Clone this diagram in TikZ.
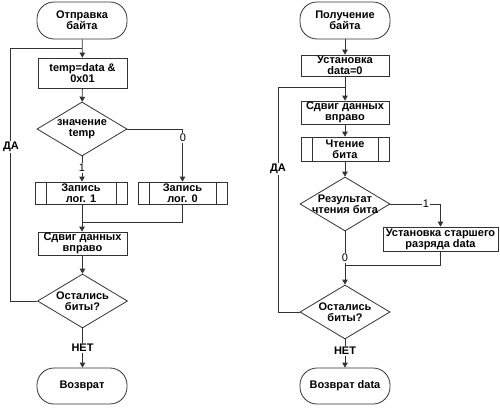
\documentclass[tikz,border=0pt]{standalone}
\usepackage{fontspec}
\setmainfont{Liberation Sans}
\usetikzlibrary{arrows.meta, shapes.geometric}

\tikzset{
    base/.style={draw=black!80, line width=0.8pt, align=center, inner sep=1pt,
        font=\bfseries\fontsize{11}{11}\selectfont},
    term/.style={base, rectangle, rounded corners=17pt, minimum width=90pt, minimum height=37pt},
    box/.style={base, rectangle, minimum width=88pt, minimum height=21pt},
    subbox/.style={box, path picture={
        \draw[black!80, line width=0.8pt]
            ([xshift=11pt]path picture bounding box.north west) -- ([xshift=11pt]path picture bounding box.south west)
            ([xshift=-11pt]path picture bounding box.north east) -- ([xshift=-11pt]path picture bounding box.south east);}},
    decision/.style={base, diamond, minimum width=90pt, minimum height=54pt, inner sep=0pt,
        label={[base, draw=none, align=center]center:#1}},
    lbl/.style={fill=white, inner sep=1pt, font=\bfseries\fontsize{11}{11}\selectfont},
    num/.style={lbl, font=\fontsize{11}{11}\selectfont},
    line/.style={draw=black!80, line width=0.8pt},
    arrow/.style={line, -{Triangle[width=5.5pt,length=5pt]}}
}

\begin{document}
\begin{tikzpicture}[x=1pt, y=-1pt]
    \useasboundingbox (0,0) rectangle (500,410);

    % Left chart: sending a byte
    \node[term] (sendStart) at (82,20.5) {Отправка\\байта};
    \node[box, minimum height=30pt, minimum width=89pt] (temp) at (82.5,73) {temp=data \&\\0x01};
    \node[decision={значение\\temp}] (checkTemp) at (82,129) {};
    \node[subbox, minimum width=92pt, minimum height=22pt] (writeOne) at (81,193) {Запись\\лог. 1};
    \node[subbox, minimum width=89pt, minimum height=22pt] (writeZero) at (182.5,193) {Запись\\лог. 0};
    \node[box, minimum width=89pt] (shiftL) at (82.5,243.5) {Сдвиг данных\\вправо};
    \node[decision={Остались\\биты?}] (bitsLeftL) at (82.5,301) {};
    \node[term, minimum height=36pt] (sendEnd) at (82,386) {Возврат};

    \coordinate (loopL) at (10,48);
    \coordinate (mergeL) at (82,222);

    \draw[arrow] (sendStart) -- (temp);
    \draw[arrow] (temp) -- (checkTemp);
    \draw[arrow] (checkTemp.south) -- (writeOne.north -| checkTemp.south);
    \draw[arrow] (checkTemp.east) -| (writeZero.north);
    \draw[line] (writeOne.south -| mergeL) -- (mergeL);
    \draw[line] (writeZero.south) |- (mergeL);
    \draw[arrow] (mergeL) -- (shiftL.north -| mergeL);
    \draw[arrow] (shiftL.south -| bitsLeftL.north) -- (bitsLeftL.north);
    \draw[line] (bitsLeftL.west) -| (loopL) -- (loopL -| sendStart.south);
    \draw[arrow] (bitsLeftL.south) -- (sendEnd.north -| bitsLeftL.south);

    \node[num] (zeroL) at (183,138) {0};
    \node[num] (oneL) at (82,168) {1};
    \node[lbl] (yesL) at (11,147) {ДА};
    \node[lbl] (noL) at (82.5,348) {НЕТ};

    % Right chart: receiving a byte
    \node[term] (recvStart) at (345,20.5) {Получение\\байта};
    \node[box] (init) at (345,65.5) {Установка\\data=0};
    \node[box] (shiftR) at (345,112.5) {Сдвиг данных\\вправо};
    \node[subbox, minimum height=24pt] (readBit) at (345,149) {Чтение\\бита};
    \node[decision={Результат\\чтения бита}] (checkBit) at (345,204) {};
    \node[box, minimum width=115pt, minimum height=24pt] (setTop) at (440.5,239) {Установка старшего\\разряда data};
    \node[decision={Остались\\биты?}] (bitsLeftR) at (345,312) {};
    \node[term, minimum height=36pt] (recvEnd) at (345,386) {Возврат data};

    \coordinate (loopR) at (278,87);
    \coordinate (mergeR) at (345,265);

    \draw[arrow] (recvStart) -- (init);
    \draw[arrow] (init) -- (shiftR);
    \draw[line] (bitsLeftR.west) -| (loopR) -- (loopR -| init.south);
    \draw[arrow] (shiftR) -- (readBit);
    \draw[arrow] (readBit) -- (checkBit);
    \draw[arrow] (checkBit.east) -| (setTop.north);
    \draw[line] (checkBit.south) -- (mergeR);
    \draw[line] (setTop.south) |- (mergeR);
    \draw[arrow] (mergeR) -- (bitsLeftR.north);
    \draw[arrow] (bitsLeftR.south) -- (recvEnd.north);

    \node[num] (oneR) at (426,204) {1};
    \node[num] (zeroR) at (345,258) {0};
    \node[lbl] (yesR) at (278,169) {ДА};
    \node[lbl] (noR) at (345,351) {НЕТ};
\end{tikzpicture}
\end{document}
